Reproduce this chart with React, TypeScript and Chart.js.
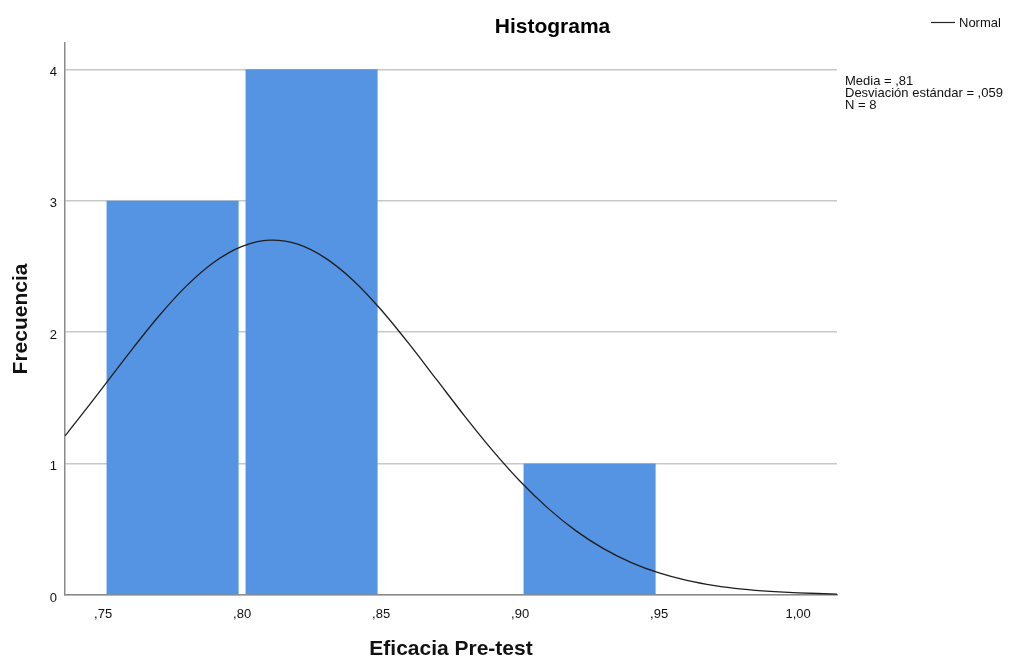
import React, { useEffect, useRef } from "react";
import { Chart, registerables } from "chart.js";

Chart.register(...registerables);

// ---- data ----
const binCenters = [0.775, 0.825, 0.925];
const frequencies = [3, 4, 1];

const curveX = [0.7363, 0.74, 0.75, 0.76, 0.77, 0.78, 0.79, 0.8, 0.81, 0.82, 0.83, 0.84, 0.85, 0.86, 0.87, 0.88, 0.89, 0.9, 0.91, 0.92, 0.93, 0.94, 0.95, 0.96, 0.97, 0.98, 0.99, 1.0, 1.014];
const curveY = [1.211, 1.309, 1.582, 1.858, 2.121, 2.352, 2.534, 2.653, 2.7, 2.669, 2.563, 2.393, 2.17, 1.912, 1.638, 1.363, 1.102, 0.865, 0.661, 0.49, 0.353, 0.247, 0.168, 0.111, 0.0715, 0.0446, 0.0271, 0.016, 0.0073];

const xTickValues = [0.75, 0.8, 0.85, 0.9, 0.95, 1.0];
const xTickLabels = [",75", ",80", ",85", ",90", ",95", "1,00"];
const yTickValues = [0, 1, 2, 3, 4];

const xRange = [0.7363, 1.014];
const yRange = [0, 4.2];

const chartTitle = "Histograma";
const xTitle = "Eficacia Pre-test";
const yTitle = "Frecuencia";
const legendLabel = "Normal";
const statsLines = ["Media = ,81", "Desviación estándar = ,059", "N = 8"];

const FONT = "'Liberation Sans', Arial, sans-serif";

const overlayPlugin = {
  id: "overlayText",
  afterDraw(chart: any) {
    const ctx = chart.ctx;
    ctx.save();
    // title
    ctx.fillStyle = "#000";
    ctx.font = `bold 21px ${FONT}`;
    ctx.textAlign = "center";
    ctx.textBaseline = "alphabetic";
    ctx.fillText(chartTitle, 552.5, 32.5);
    // legend
    ctx.strokeStyle = "#222";
    ctx.lineWidth = 1.2;
    ctx.beginPath();
    ctx.moveTo(931, 22.5);
    ctx.lineTo(955, 22.5);
    ctx.stroke();
    ctx.font = `13px ${FONT}`;
    ctx.textAlign = "left";
    ctx.fillStyle = "#111";
    ctx.fillText(legendLabel, 959, 27);
    // stats
    statsLines.forEach((t, i) => {
      ctx.fillText(t, 845, 85 + i * 12);
    });
    ctx.restore();
  },
};

export default function App() {
  const ref = useRef<HTMLCanvasElement>(null);

  useEffect(() => {
    if (!ref.current) return;
    const chart = new Chart(ref.current, {
      type: "bar",
      data: {
        datasets: [
          {
            type: "line",
            label: legendLabel,
            data: curveX.map((x, i) => ({ x, y: curveY[i] })),
            borderColor: "#1e1e1e",
            borderWidth: 1.3,
            pointRadius: 0,
            tension: 0.3,
            fill: false,
            order: 0,
          } as any,
          {
            type: "bar",
            label: "Frecuencia",
            data: binCenters.map((x, i) => ({ x, y: frequencies[i] })),
            backgroundColor: "#5594e3",
            borderWidth: 0,
            barPercentage: 0.95,
            categoryPercentage: 1,
            order: 1,
          } as any,
        ],
      },
      options: {
        animation: false,
        responsive: false,
        devicePixelRatio: 1,
        layout: { padding: { top: 43, right: 187, left: 0, bottom: 0 } },
        plugins: {
          legend: { display: false },
          title: { display: false },
          tooltip: { enabled: false },
        },
        scales: {
          x: {
            type: "linear",
            min: xRange[0],
            max: xRange[1],
            offset: false,
            grid: { display: false, drawTicks: false },
            border: { display: true, color: "#8a8a8a", width: 1.5 },
            afterBuildTicks: (s: any) => {
              s.ticks = xTickValues.map((v) => ({ value: v }));
            },
            afterFit: (s: any) => {
              s.height = 66;
            },
            ticks: {
              autoSkip: false,
              maxRotation: 0,
              padding: 12,
              color: "#111",
              font: { family: FONT, size: 13 },
              callback: (_v: any, i: number) => xTickLabels[i],
            },
            title: {
              display: true,
              text: xTitle,
              color: "#111",
              font: { family: FONT, size: 21, weight: "bold", lineHeight: 1 },
              padding: { top: 0, bottom: 1 },
            },
          },
          y: {
            type: "linear",
            min: yRange[0],
            max: yRange[1],
            grid: { color: "#c8c8c8", lineWidth: 1.5, drawTicks: false },
            border: { display: true, color: "#8a8a8a", width: 1.5 },
            afterBuildTicks: (s: any) => {
              s.ticks = yTickValues.map((v) => ({ value: v }));
            },
            afterFit: (s: any) => {
              s.width = 65;
            },
            ticks: {
              padding: 8,
              labelOffset: 3,
              color: "#111",
              font: { family: FONT, size: 13 },
              callback: (v: any) => String(v),
            },
            title: {
              display: true,
              text: yTitle,
              color: "#111",
              font: { family: FONT, size: 21, weight: "bold", lineHeight: 1 },
              padding: { top: 11, bottom: 0 },
            },
          },
        },
      },
      plugins: [overlayPlugin],
    } as any);
    return () => chart.destroy();
  }, []);

  return (
    <div style={{ position: "fixed", left: 0, top: 0, width: 1024, height: 661, background: "#fff" }}>
      <canvas ref={ref} width={1024} height={661} style={{ width: 1024, height: 661, display: "block" }} />
    </div>
  );
}
